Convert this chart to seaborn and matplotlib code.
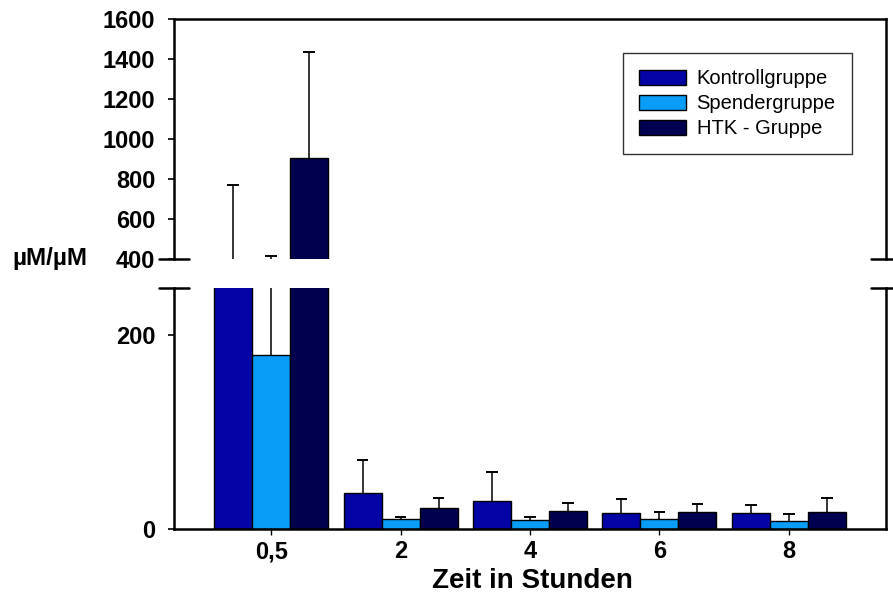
import numpy as np
import pandas as pd
import matplotlib
matplotlib.use("Agg")
import matplotlib.pyplot as plt
import seaborn as sns

# Data
zeiten = ["0,5", "2", "4", "6", "8"]
gruppen = ["Kontrollgruppe", "Spendergruppe", "HTK - Gruppe"]
kontroll = [320, 37, 29, 16.5, 16]
spender = [179, 10, 9, 10.5, 8]
htk = [905, 22, 19, 17, 18]
kontroll_err = [450, 34, 30, 14, 8.5]
spender_err = [236, 2.7, 3.5, 6.5, 7.5]
htk_err = [530, 10, 8, 9, 14]

farben = ["#0303A6", "#0A9DF7", "#00004F"]

df = pd.DataFrame({
    "Zeit": zeiten * 3,
    "Gruppe": np.repeat(gruppen, len(zeiten)),
    "Wert": kontroll + spender + htk,
})
fehler = [kontroll_err, spender_err, htk_err]
werte = [kontroll, spender, htk]

sns.set_theme(style="white")
plt.rcParams["font.family"] = ["Liberation Sans", "DejaVu Sans"]
plt.rcParams.update({"text.color": "black", "axes.labelcolor": "black",
                     "xtick.color": "black", "ytick.color": "black"})

fig = plt.figure(figsize=(8.93, 5.96), dpi=100)
left, right = 174 / 893, 886 / 893
ax_top = fig.add_axes([left, 1 - 259 / 596, right - left, 240 / 596])
ax_bot = fig.add_axes([left, 1 - 529 / 596, right - left, 241 / 596])

for ax in (ax_top, ax_bot):
    sns.barplot(data=df, x="Zeit", y="Wert", hue="Gruppe", palette=farben,
                order=zeiten, hue_order=gruppen, width=0.88,
                edgecolor="black", linewidth=1.0, saturation=1, ax=ax,
                legend=(ax is ax_top), zorder=2)
    # upward-only error bars, behind the bars
    for cont, vals, errs in zip(ax.containers, werte, fehler):
        xs = np.array([p.get_x() + p.get_width() / 2 for p in cont.patches])
        tops = np.array(vals) + np.array(errs)
        ax.vlines(xs, vals, tops, color="black", linewidth=1.1, zorder=1)
        ax.hlines(tops, xs - 0.045, xs + 0.045, color="black",
                  linewidth=1.4, zorder=1)
    ax.set_xlim(-0.75, 4.75)
    ax.set_xlabel("")
    ax.set_ylabel("")
    for s in ax.spines.values():
        s.set_color("black")
        s.set_linewidth(1.8)

ax_top.set_ylim(400, 1600)
ax_top.set_yticks(range(400, 1601, 200))
ax_top.spines["bottom"].set_visible(False)
ax_top.tick_params(axis="x", bottom=False, labelbottom=False)

ax_bot.set_ylim(0, 248)
ax_bot.set_yticks([0, 200])
ax_bot.spines["top"].set_visible(False)
ax_bot.tick_params(axis="x", bottom=True, length=4, width=1.0, direction="out",
                   pad=4)

for ax in (ax_top, ax_bot):
    ax.tick_params(axis="y", left=True, length=4.5, width=1.2,
                   direction="out", pad=9)
    for lab in ax.get_yticklabels() + ax.get_xticklabels():
        lab.set_fontweight("bold")
        lab.set_fontsize(17)

# break marks
for ax, yy in ((ax_top, 0.0), (ax_bot, 1.0)):
    for xx in (0.0, 1.0):
        ax.plot([xx - 0.021, xx + 0.021], [yy, yy], transform=ax.transAxes,
                color="black", linewidth=1.8, clip_on=False)

leg = ax_top.legend(loc="upper right", bbox_to_anchor=(0.952, 0.858),
                    borderaxespad=0, fontsize=14.5, frameon=True,
                    fancybox=False, handlelength=2.3, handleheight=0.75,
                    handletextpad=0.55, labelspacing=0.3, borderpad=0.8,
                    title=None)
leg.get_frame().set_edgecolor("black")
leg.get_frame().set_linewidth(1.0)

fig.text(12 / 893, 1 - 259 / 596, "µM/µM", fontsize=17.5, fontweight="bold",
         va="center", ha="left")
fig.text(532 / 893, 1 - 581 / 596, "Zeit in Stunden", fontsize=20,
         fontweight="bold", ha="center", va="center")

fig.savefig("out.png", dpi=100)
